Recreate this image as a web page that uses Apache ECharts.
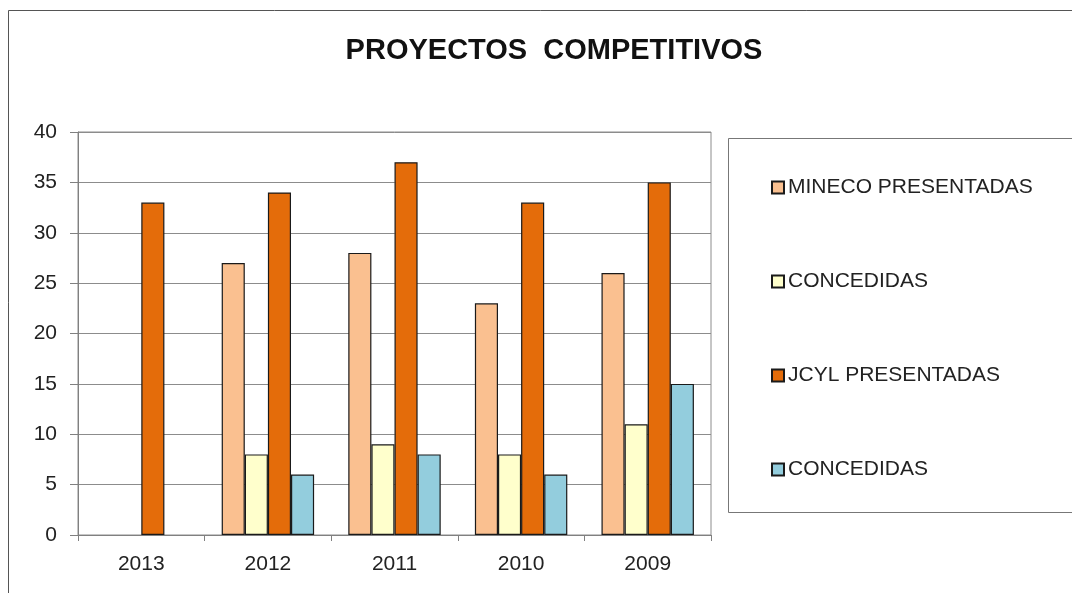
<!DOCTYPE html>
<html>
<head>
<meta charset="utf-8">
<script src="https://cdn.jsdelivr.net/npm/echarts@6/dist/echarts.min.js"></script>
<style>
html, body { margin: 0; padding: 0; background: #fff; }
#chart { width: 1072px; height: 593px; }
</style>
</head>
<body>
<div id="chart"></div>
<script>
// datos
const years = ['2013', '2012', '2011', '2010', '2009']
const minecoPresentadas = ['-', 27, 28, 23, 26]
const minecoConcedidas = ['-', 8, 9, 8, 11]
const jcylPresentadas = [33, 34, 37, 33, 35]
const jcylConcedidas = ['-', 6, 8, 6, 15]
const yTicks = [0, 5, 10, 15, 20, 25, 30, 35, 40]

// texto de la leyenda (dos series se llaman igual)
const legendText = {
	'MINECO PRESENTADAS': 'MINECO PRESENTADAS',
	'MINECO CONCEDIDAS': 'CONCEDIDAS',
	'JCYL PRESENTADAS': 'JCYL PRESENTADAS',
	'JCYL CONCEDIDAS': 'CONCEDIDAS'
}

const chart = echarts.init(document.getElementById('chart'))
const font = 'Arial, "Liberation Sans", sans-serif'

const barSeries = (name, data, color) => ({
	name: name,
	type: 'bar',
	data: data,
	barGap: 0,
	barCategoryGap: '27%',
	itemStyle: {
		color: color,
		borderColor: '#1a1a1a',
		borderWidth: 1.2
	},
	animation: false
})

const option = {
	backgroundColor: '#fff',
	title: {
		text: 'PROYECTOS  COMPETITIVOS',
		left: 549,
		textAlign: 'center',
		top: 31,
		textStyle: { fontFamily: font, fontSize: 29, fontWeight: 'bold', color: '#111' }
	},
	graphic: [
		{
			type: 'rect',
			shape: { x: 8.5, y: 10.5, width: 1200, height: 800 },
			style: { fill: 'none', stroke: '#555', lineWidth: 1 },
			silent: true
		},
		{
			type: 'rect',
			shape: { x: 728.5, y: 138.5, width: 500, height: 374 },
			style: { fill: 'none', stroke: '#777', lineWidth: 1 },
			silent: true
		}
	],
	legend: {
		orient: 'vertical',
		left: 766,
		top: 172,
		itemWidth: 12,
		itemHeight: 12,
		itemGap: 73,
		icon: 'rect',
		formatter: name => legendText[name],
		textStyle: { fontFamily: font, fontSize: 21, lineHeight: 20, color: '#222', padding: [0, 0, 0, -1] }
	},
	grid: {
		left: 78,
		right: 361,
		top: 132,
		bottom: 58,
		show: true,
		borderColor: '#8c8c8c',
		borderWidth: 1
	},
	xAxis: {
		type: 'category',
		data: years,
		axisLine: { lineStyle: { color: '#808080', width: 1 } },
		axisTick: { show: true, length: 6, lineStyle: { color: '#808080' } },
		axisLabel: { margin: 19, fontFamily: font, fontSize: 21, color: '#222' }
	},
	yAxis: {
		type: 'value',
		min: yTicks[0],
		max: yTicks[yTicks.length - 1],
		interval: yTicks[1] - yTicks[0],
		axisLine: { show: true, lineStyle: { color: '#808080', width: 1 } },
		axisTick: { show: true, length: 8, lineStyle: { color: '#808080' } },
		axisLabel: { margin: 21, fontFamily: font, fontSize: 21, color: '#222' },
		splitLine: { lineStyle: { color: '#8c8c8c', width: 1 } }
	},
	series: [
		barSeries('MINECO PRESENTADAS', minecoPresentadas, '#FAC090'),
		barSeries('MINECO CONCEDIDAS', minecoConcedidas, '#FFFFCC'),
		barSeries('JCYL PRESENTADAS', jcylPresentadas, '#E46C0A'),
		barSeries('JCYL CONCEDIDAS', jcylConcedidas, '#93CDDD')
	]
}

chart.setOption(option)
window.addEventListener('resize', function () {
	chart.resize()
})
</script>
</body>
</html>
